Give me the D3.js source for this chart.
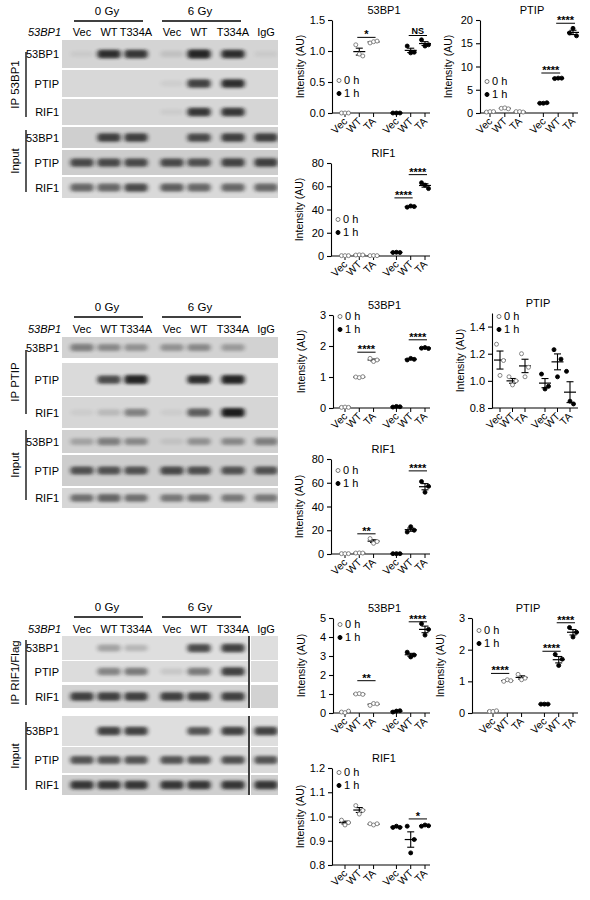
<!DOCTYPE html>
<html><head><meta charset="utf-8">
<script src="https://cdn.jsdelivr.net/npm/d3@7"></script>
<style>body{margin:0;background:#fff}svg{font-family:"Liberation Sans",Arial,sans-serif}</style>
</head><body><svg id="c" width="590" height="900"></svg>
<script>
// ---------- data ----------
const lanes = ["Vec","WT","T334A","Vec","WT","T334A","IgG"];
const groups = ["Vec","WT","TA","Vec","WT","TA"];
const legendLabels = ["0 h","1 h"];
const blot1Rows = ["53BP1","PTIP","RIF1","53BP1","PTIP","RIF1"];
const blot1 = [[0.05,0.9,0.85,0.1,0.95,0.9,0.05],[0,0,0,0.05,0.8,0.9,0],[0,0,0,0.05,0.85,0.85,0],
  [0,0.8,0.8,0,0.75,0.8,0.8],[0.75,0.75,0.75,0.75,0.72,0.78,0.8],[0.6,0.6,0.75,0.65,0.6,0.6,0.6]];
const blot2 = [[0.45,0.4,0.35,0.35,0.4,0.3,0],[0,0.75,0.95,0,0.9,0.95,0],[0.05,0.15,0.45,0.05,0.65,1,0],
  [0.25,0.45,0.4,0.08,0.35,0.4,0.45],[0.7,0.7,0.7,0.75,0.72,0.7,0.7],[0.55,0.6,0.55,0.5,0.55,0.5,0.5]];
const blot3 = [[0,0.3,0.2,0,0.75,0.8,0],[0,0.45,0.5,0.1,0.5,0.8,0],[0.8,0.8,0.8,0.8,0.8,0.8,0],
  [0,0.8,0.8,0,0.7,0.8,0.8],[0.7,0.7,0.7,0.7,0.72,0.72,0.7],[0.85,0.85,0.85,0.85,0.85,0.85,0.85]];
const a53 = [[0,0,0],[1.1,0.95,0.92],[1.13,1.15,1.16],[0,0,0],[1.08,0.97,0.98],[1.18,1.08,1.1]];
const aPTIP = [[0.2,0.3,0.3],[1,1.1,0.9],[0.3,0.3,0.2],[2.1,2.1,2.2],[7.4,7.5,7.5],[17.2,18.2,16.6]];
const aRIF1 = [[0.3,0.3,0.3],[0.8,1,0.9],[0.3,0.4,0.3],[3,3.2,3],[42,43,42.5],[63,61,58]];
const b53 = [[0.02,0.03,0.02],[1,0.98,1.01],[1.6,1.5,1.55],[0.03,0.05,0.04],[1.55,1.6,1.57],[1.93,1.95,1.92]];
const bPTIP = [[1.27,1.04,1.15],[1.03,0.97,1.0],[1.2,1.03,1.1],[1.05,0.94,0.96],[1.23,1.03,1.16],[1.07,0.85,0.83]];
const bRIF1 = [[0.3,0.3,0.3],[0.8,0.9,0.8],[13,9,10.5],[0.3,0.3,0.3],[18.5,23,20],[61,52,57]];
const c53 = [[0.05,0.02,0.1],[1,1.02,0.98],[0.4,0.5,0.48],[0.05,0.1,0.12],[3.2,2.95,3.05],[4.7,4.1,4.4]];
const cPTIP = [[0.05,0.05,0.07],[1.0,1.05,1.02],[1.22,1.05,1.1],[0.28,0.28,0.28],[1.85,1.5,1.7],[2.7,2.4,2.55]];
const cRIF1 = [[0.985,0.965,0.975],[1.045,1.01,1.025],[0.97,0.965,0.97],[0.955,0.96,0.955],[0.96,0.85,0.905],[0.96,0.965,0.962]];
const aSig53 = [[1,2,1.22,"*"],[4,5,1.25,"NS"]];
const aSigPTIP = [[3,4,8.6,"****"],[4,5,19.3,"****"]];
const aSigRIF1 = [[3,4,50,"****"],[4,5,70,"****"]];
const bSig53 = [[1,2,1.8,"****"],[4,5,2.2,"****"]];
const bSigPTIP = [];
const bSigRIF1 = [[1,2,17,"**"],[4,5,70,"****"]];
const cSig53 = [[1,2,1.7,"**"],[4,5,4.8,"****"]];
const cSigPTIP = [[0,1,1.25,"****"],[3,4,1.95,"****"],[4,5,2.85,"****"]];
const cSigRIF1 = [[4,5,0.99,"*"]];

const svg = d3.select("#c");
const defs = svg.append("defs");
defs.append("filter").attr("id","blur").attr("x","-50%").attr("y","-100%").attr("width","200%").attr("height","300%")
  .append("feGaussianBlur").attr("stdDeviation","2 1.5");

const laneX = d3.scaleOrdinal().domain(d3.range(7)).range([82,109,136,172,199,233,266]);
function blot(cfg){
  const g = svg.append("g");
  g.append("text").attr("x",cfg.hx0).attr("y",cfg.hy-6).attr("text-anchor","middle").attr("font-size",11.5).text("0 Gy");
  g.append("text").attr("x",cfg.hx1).attr("y",cfg.hy-6).attr("text-anchor","middle").attr("font-size",11.5).text("6 Gy");
  g.append("line").attr("x1",74).attr("x2",143).attr("y1",cfg.hy).attr("y2",cfg.hy).attr("stroke","#000").attr("stroke-width",1.3);
  g.append("line").attr("x1",162).attr("x2",241).attr("y1",cfg.hy).attr("y2",cfg.hy).attr("stroke","#000").attr("stroke-width",1.3);
  g.append("text").attr("x",28).attr("y",cfg.ly).attr("font-size",11).attr("font-style","italic").text("53BP1");
  lanes.forEach((l,i)=>g.append("text").attr("x",laneX(i)).attr("y",cfg.ly).attr("text-anchor","middle").attr("font-size",11).text(l));
  cfg.rows.forEach((r,ri)=>{
    const [y0,y1] = r;
    const strips = cfg.split ? [[62,248],[251,278]] : [[62,278]];
    strips.forEach(s=>g.append("rect").attr("x",s[0]).attr("y",y0).attr("width",s[1]-s[0]).attr("height",y1-y0).attr("fill",cfg.bg[ri]));
    g.append("clipPath").attr("id",`cl${cfg.id}${ri}`).append("rect").attr("x",62).attr("y",y0).attr("width",216).attr("height",y1-y0);
    const bg = g.append("g").attr("clip-path",`url(#cl${cfg.id}${ri})`);
    cfg.data[ri].forEach((v,i)=>{
      if(v<=0) return;
      bg.append("rect").attr("x",laneX(i)-11.5).attr("y",(y0+y1)/2-3-v*1.5).attr("width",23).attr("height",6+v*3)
        .attr("rx",3).attr("fill","#1a1a1a").attr("opacity",Math.min(1,v*1.0)).attr("filter","url(#blur)");
    });
    g.append("text").attr("x",59).attr("y",(y0+y1)/2+4).attr("text-anchor","end").attr("font-size",11).text(blot1Rows[ri]);
  });
  if(cfg.split){
    g.append("line").attr("x1",249).attr("x2",249).attr("y1",cfg.rows[0][0]).attr("y2",cfg.rows[2][1]).attr("stroke","#000").attr("stroke-width",1.5);
    g.append("line").attr("x1",249).attr("x2",249).attr("y1",cfg.rows[3][0]).attr("y2",cfg.rows[5][1]).attr("stroke","#000").attr("stroke-width",1.5);
  }
  g.append("line").attr("x1",26).attr("x2",26).attr("y1",cfg.ipLine[0]).attr("y2",cfg.ipLine[1]).attr("stroke","#000").attr("stroke-width",1.3);
  g.append("line").attr("x1",26).attr("x2",26).attr("y1",cfg.inLine[0]).attr("y2",cfg.inLine[1]).attr("stroke","#000").attr("stroke-width",1.3);
  g.append("text").attr("transform",`translate(19,${(cfg.ipLine[0]+cfg.ipLine[1])/2}) rotate(-90)`).attr("text-anchor","middle").attr("font-size",11.5).text(cfg.ip);
  g.append("text").attr("transform",`translate(19,${(cfg.inLine[0]+cfg.inLine[1])/2}) rotate(-90)`).attr("text-anchor","middle").attr("font-size",11.5).text("Input");
}
blot({id:1,hy:21,hx0:107,hx1:200,ly:36,ip:"IP 53BP1",data:blot1,
  rows:[[40,68],[70,97],[99,125],[127,148],[150,175],[177,198]],
  bg:["#d4d4d4","#d8d8d8","#d6d6d6","#cfcfcf","#cdcdcd","#d9d9d9"],ipLine:[52,117],inLine:[130,192]});
blot({id:2,hy:317,hx0:107,hx1:200,ly:333,ip:"IP PTIP",data:blot2,
  rows:[[337,358],[363,396],[397,428],[430,453],[455,486],[488,508]],
  bg:["#d2d2d2","#dadada","#d6d6d6","#d0d0d0","#cdcdcd","#d6d6d6"],ipLine:[350,414],inLine:[430,500]});
blot({id:3,hy:617,hx0:107,hx1:200,ly:633,ip:"IP RIF1/Flag",data:blot3,split:true,
  rows:[[636,660],[661,682],[685,708],[716,746],[747,773],[775,795]],
  bg:["#dedede","#dcdcdc","#d2d2d2","#dedede","#dadada","#cfcfcf"],ipLine:[640,705],inLine:[722,790]});

const pos = [0,1,2,3.6,4.6,5.6];
const jit = [-3.5,0,3.5];
function panel(p){
  const g = svg.append("g");
  const y = d3.scaleLinear().domain(p.domain).range([p.yb,p.yt]);
  const x = d3.scaleLinear().domain([0,5.6]).range([p.t0,p.t1]);
  const ya = d3.axisLeft(y).tickValues(p.ticks).tickFormat(d3.format(p.fmt)).tickSize(4).tickSizeOuter(0);
  const yg = g.append("g").attr("transform",`translate(${p.ax},0)`).call(ya);
  yg.selectAll("text").attr("font-size",11).attr("font-family","Liberation Sans, Arial");
  yg.selectAll("line,path").attr("stroke","#000").attr("stroke-width",1.1);
  g.append("line").attr("x1",p.ax).attr("x2",p.ae).attr("y1",p.yb).attr("y2",p.yb).attr("stroke","#000").attr("stroke-width",1.1);
  pos.forEach((q,i)=>{
    g.append("line").attr("x1",x(q)).attr("x2",x(q)).attr("y1",p.yb).attr("y2",p.yb+4).attr("stroke","#000");
    g.append("text").attr("transform",`translate(${x(q)+3},${p.yb+9}) rotate(-45)`).attr("text-anchor","end").attr("font-size",10.5).text(groups[i]);
  });
  g.append("text").attr("x",(p.ax+p.ae)/2+3).attr("y",p.yt-6).attr("text-anchor","middle").attr("font-size",11).text(p.title);
  g.append("text").attr("transform",`translate(${p.ax-28},${(p.yt+p.yb)/2}) rotate(-90)`).attr("text-anchor","middle").attr("font-size",10.5).text("Intensity (AU)");
  p.data.forEach((vals,i)=>{
    const cx = x(pos[i]), open = i<3;
    const m = d3.mean(vals), se = d3.deviation(vals)/Math.sqrt(vals.length);
    g.append("line").attr("x1",cx-6).attr("x2",cx+6).attr("y1",y(m)).attr("y2",y(m)).attr("stroke","#000").attr("stroke-width",1.2);
    if(y(m-se)-y(m+se)>1.5){
      g.append("line").attr("x1",cx).attr("x2",cx).attr("y1",y(m-se)).attr("y2",y(m+se)).attr("stroke","#000").attr("stroke-width",1.1);
      [m-se,m+se].forEach(v=>g.append("line").attr("x1",cx-3.5).attr("x2",cx+3.5).attr("y1",y(v)).attr("y2",y(v)).attr("stroke","#000").attr("stroke-width",1.1));
    }
    vals.forEach((v,k)=>g.append("circle").attr("cx",cx+jit[k]).attr("cy",y(v)).attr("r",2)
      .attr("fill",open?"#fff":"#000").attr("stroke",open?"#777":"#000").attr("stroke-width",0.9));
  });
  p.sig.forEach(s=>{
    const yy = y(s[2]);
    g.append("line").attr("x1",x(pos[s[0]])-2).attr("x2",x(pos[s[1]])+2).attr("y1",yy).attr("y2",yy).attr("stroke","#000").attr("stroke-width",1);
    g.append("text").attr("x",(x(pos[s[0]])+x(pos[s[1]]))/2).attr("y",yy-(s[3]==="NS"?2:-1)).attr("text-anchor","middle")
      .attr("font-size",s[3]==="NS"?9:11).attr("font-weight","bold").text(s[3]);
  });
  [[p.lg,false],[p.lg+13,true]].forEach(([ly,f],k)=>{
    g.append("circle").attr("cx",p.ax+7).attr("cy",ly-3.5).attr("r",2).attr("fill",f?"#000":"#fff").attr("stroke",f?"#000":"#777");
    g.append("text").attr("x",p.ax+12).attr("y",ly).attr("font-size",11).text(legendLabels[k]);
  });
}
panel({title:"53BP1",data:a53,sig:aSig53,domain:[0,1.5],ticks:[0,0.5,1,1.5],fmt:".1f",yt:20,yb:113,ax:332,ae:430,t0:345,t1:425,lg:84});
panel({title:"PTIP",data:aPTIP,sig:aSigPTIP,domain:[0,20],ticks:[0,5,10,15,20],fmt:"d",yt:20,yb:113,ax:480,ae:578,t0:490,t1:573,lg:85});
panel({title:"RIF1",data:aRIF1,sig:aSigRIF1,domain:[0,80],ticks:[0,20,40,60,80],fmt:"d",yt:163,yb:256,ax:331,ae:430,t0:345,t1:425,lg:223});
panel({title:"53BP1",data:b53,sig:bSig53,domain:[0,3],ticks:[0,1,2,3],fmt:"d",yt:315,yb:408,ax:333,ae:430,t0:345,t1:425,lg:320});
panel({title:"PTIP",data:bPTIP,sig:bSigPTIP,domain:[0.8,1.5],ticks:[0.8,1.0,1.2,1.4],fmt:".1f",yt:313,yb:408,ax:492,ae:578,t0:500,t1:570,lg:320});
panel({title:"RIF1",data:bRIF1,sig:bSigRIF1,domain:[0,80],ticks:[0,20,40,60,80],fmt:"d",yt:459,yb:554,ax:331,ae:430,t0:345,t1:425,lg:474});
panel({title:"53BP1",data:c53,sig:cSig53,domain:[0,5],ticks:[0,1,2,3,4,5],fmt:"d",yt:618,yb:713,ax:333,ae:430,t0:345,t1:425,lg:628});
panel({title:"PTIP",data:cPTIP,sig:cSigPTIP,domain:[0,3],ticks:[0,1,2,3],fmt:"d",yt:618,yb:713,ax:472,ae:578,t0:493,t1:573,lg:634});
panel({title:"RIF1",data:cRIF1,sig:cSigRIF1,domain:[0.8,1.2],ticks:[0.8,0.9,1.0,1.1,1.2],fmt:".1f",yt:768,yb:865,ax:332,ae:430,t0:345,t1:425,lg:776});
</script></body></html>
